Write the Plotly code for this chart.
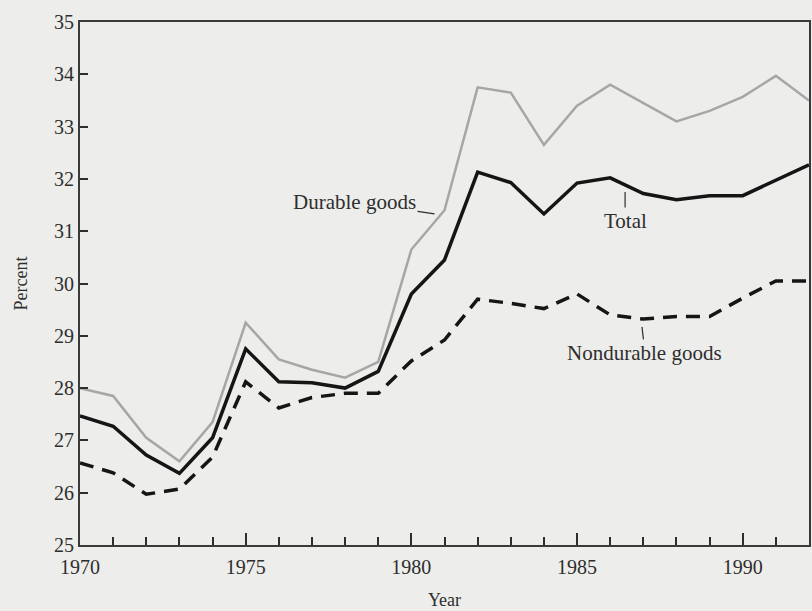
import plotly.graph_objects as go

years = list(range(1970, 1993))
durable = [28.0, 27.85, 27.05, 26.6, 27.35, 29.25, 28.55, 28.35, 28.2, 28.5,
           30.65, 31.4, 33.75, 33.65, 32.65, 33.4, 33.8, 33.45, 33.1, 33.3,
           33.57, 33.97, 33.5]
total = [27.47, 27.27, 26.72, 26.37, 27.05, 28.75, 28.12, 28.1, 28.0, 28.32,
         29.8, 30.45, 32.13, 31.93, 31.33, 31.92, 32.02, 31.72, 31.6, 31.68,
         31.68, 31.98, 32.27]
nondurable = [26.57, 26.38, 25.97, 26.07, 26.68, 28.12, 27.62, 27.82, 27.9, 27.9,
              28.52, 28.92, 29.7, 29.62, 29.52, 29.8, 29.4, 29.32, 29.37, 29.37,
              29.72, 30.05, 30.05]
y_ticks = [25, 26, 27, 28, 29, 30, 31, 32, 33, 34, 35]
x_ticks = [1970, 1975, 1980, 1985, 1990]

serif = "Liberation Serif"
ink = "#2e2e2e"
bg = "#ededeb"

fig = go.Figure()
fig.add_trace(go.Scatter(x=years, y=durable, mode="lines", name="Durable goods",
                         line=dict(color="#a6a6a6", width=2.5)))
fig.add_trace(go.Scatter(x=years, y=total, mode="lines", name="Total",
                         line=dict(color="#151515", width=3.5)))
fig.add_trace(go.Scatter(x=years, y=nondurable, mode="lines", name="Nondurable goods",
                         line=dict(color="#151515", width=3.5, dash="14px,9px")))

fig.update_layout(
    width=812, height=611,
    margin=dict(l=80, r=1, t=22, b=66),
    paper_bgcolor=bg, plot_bgcolor=bg,
    showlegend=False,
    font=dict(family=serif, size=18, color=ink),
    xaxis=dict(range=[1970, 1992], tickvals=x_ticks, ticks="inside", ticklen=12,
               tickwidth=2, tickcolor=ink, showgrid=False, zeroline=False,
               showline=True, linecolor="#3a3a3a", linewidth=2, mirror=True,
               minor=dict(dtick=1, tick0=1970, ticks="inside", ticklen=8,
                          tickwidth=2, tickcolor=ink, showgrid=False),
               ticklabelstandoff=3,
               title=dict(text="Year", font=dict(family=serif, size=18), standoff=16),
               tickfont=dict(family=serif, size=20)),
    yaxis=dict(range=[25, 35], tickvals=y_ticks, ticks="inside", ticklen=8,
               tickwidth=2, tickcolor=ink, showgrid=False, zeroline=False,
               showline=True, linecolor="#3a3a3a", linewidth=2, mirror=True,
               title=dict(text="Percent", font=dict(family=serif, size=18), standoff=22),
               tickfont=dict(family=serif, size=20)),
)

fig.add_annotation(x=1980.7, y=31.33, text="Durable goods", showarrow=True,
                   arrowhead=0, arrowwidth=1.2, arrowcolor=ink, ax=-80, ay=-12,
                   font=dict(family=serif, size=21, color=ink))
fig.add_annotation(x=1986.45, y=31.75, text="Total", showarrow=True,
                   arrowhead=0, arrowwidth=1.2, arrowcolor=ink, ax=0, ay=29,
                   font=dict(family=serif, size=21, color=ink))
fig.add_annotation(x=1986.96, y=29.17, text="Nondurable goods", showarrow=True,
                   arrowhead=0, arrowwidth=1.2, arrowcolor=ink, ax=3, ay=26,
                   font=dict(family=serif, size=21, color=ink))

fig.write_html("out.html", config={"displayModeBar": False},
               post_script="document.body.style.margin='0';")
